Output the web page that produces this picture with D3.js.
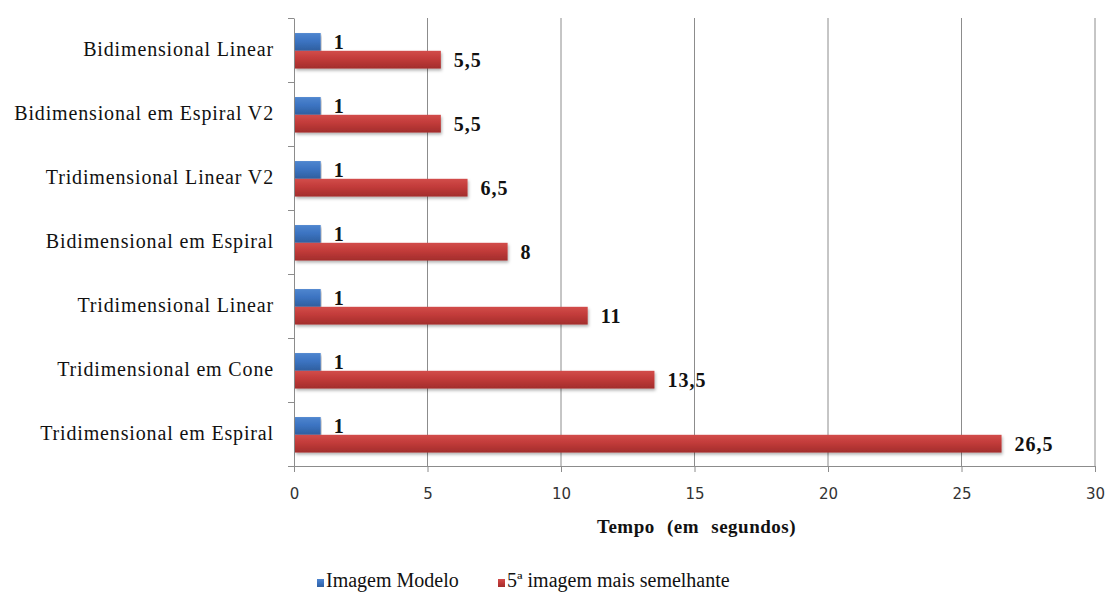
<!DOCTYPE html>
<html>
<head>
<meta charset="utf-8">
<script src="https://cdn.jsdelivr.net/npm/d3@7"></script>
<style>
  body { margin: 0; background: #fff; }
  text { font-family: "Liberation Serif", "Times New Roman", serif; }
</style>
</head>
<body>
<div id="chart"></div>
<script>
var categories = ["Bidimensional Linear", "Bidimensional em Espiral V2", "Tridimensional Linear V2",
  "Bidimensional em Espiral", "Tridimensional Linear", "Tridimensional em Cone", "Tridimensional em Espiral"];
var modelo = [1, 1, 1, 1, 1, 1, 1];
var semelhante = [5.5, 5.5, 6.5, 8, 11, 13.5, 26.5];
var xTicks = [0, 5, 10, 15, 20, 25, 30];
var seriesNames = ["Imagem Modelo", "5ª imagem mais semelhante"];

var W = 1110, H = 595;
var margin = {top: 18, left: 294, right: 15, bottom: 129};
var width = W - margin.left - margin.right,
    height = H - margin.top - margin.bottom;
var serif = "'Liberation Serif', 'Times New Roman', serif";

var svg = d3.select("#chart").append("svg")
  .attr("width", W).attr("height", H);

var defs = svg.append("defs");
function grad(id, c1, c2, c3) {
  var g = defs.append("linearGradient").attr("id", id)
    .attr("x1", 0).attr("y1", 0).attr("x2", 0).attr("y2", 1);
  g.append("stop").attr("offset", "0%").attr("stop-color", c1);
  g.append("stop").attr("offset", "45%").attr("stop-color", c2);
  g.append("stop").attr("offset", "100%").attr("stop-color", c3);
}
grad("gBlue", "#4f86cf", "#3c74c2", "#2f5f9f");
grad("gRed", "#d24c4a", "#c23b3a", "#a22d2c");
var f = defs.append("filter").attr("id", "shadow").attr("x", "-5%").attr("y", "-20%").attr("width", "110%").attr("height", "160%");
f.append("feDropShadow").attr("dx", 1).attr("dy", 2).attr("stdDeviation", 1.5).attr("flood-color", "#000").attr("flood-opacity", 0.3);

var g = svg.append("g").attr("transform", "translate(" + margin.left + "," + margin.top + ")");

var x = d3.scaleLinear().domain([0, 30]).range([0, width]);
var y = d3.scaleBand().domain(categories).range([0, height]);
var inner = d3.scaleBand().domain([0, 1]).range([y.bandwidth() * 0.235, y.bandwidth() * 0.79]);

// grid
g.selectAll(".grid").data(xTicks.slice(1)).enter().append("line")
  .attr("x1", d => x(d)).attr("x2", d => x(d))
  .attr("y1", 0).attr("y2", height)
  .attr("stroke", "#8c8c8c").attr("stroke-width", 1);

// axes
var xAxis = d3.axisBottom(x).tickValues(xTicks).tickSize(6).tickPadding(16);
var xg = g.append("g").attr("transform", "translate(0," + height + ")").call(xAxis);
xg.select(".domain").attr("stroke", "#8c8c8c");
xg.selectAll(".tick line").attr("stroke", "#8c8c8c");
xg.selectAll(".tick text").attr("fill", "#333")
  .style("font-family", "'DejaVu Sans', sans-serif").style("font-size", "15px");

var yg = g.append("g").call(d3.axisLeft(y).tickSize(0).tickPadding(20));
yg.select(".domain").attr("stroke", "#8c8c8c");
yg.selectAll(".tick text").attr("fill", "#111")
  .style("font-family", serif).style("font-size", "20px")
  .style("letter-spacing", "0.85px");
// band boundary ticks
g.selectAll(".bt").data(d3.range(categories.length + 1)).enter().append("line")
  .attr("x1", -6).attr("x2", 0)
  .attr("y1", d => d * y.step() + 0.5).attr("y2", d => d * y.step() + 0.5)
  .attr("stroke", "#8c8c8c");

// bars
var rows = categories.map(function (c, i) { return {cat: c, vals: [modelo[i], semelhante[i]]}; });
var fills = ["url(#gBlue)", "url(#gRed)"];
var row = g.selectAll(".row").data(rows).enter().append("g")
  .attr("transform", d => "translate(0," + y(d.cat) + ")");

[0, 1].forEach(function (s) {
  row.append("rect")
    .attr("x", 1).attr("y", inner(s))
    .attr("width", d => x(d.vals[s]) - 1)
    .attr("height", inner.bandwidth())
    .attr("fill", fills[s])
    .attr("filter", "url(#shadow)");
  row.append("text")
    .attr("x", d => x(d.vals[s]) + 13)
    .attr("y", inner(s) + inner.bandwidth() / 2 + 7)
    .attr("font-weight", "bold").attr("fill", "#111")
    .style("font-family", serif).style("font-size", "20px").style("letter-spacing", "1px")
    .text(d => String(d.vals[s]).replace(".", ","));
});

// axis title
g.append("text").attr("x", x(15) + 2).attr("y", height + 67)
  .attr("text-anchor", "middle").attr("font-weight", "bold").attr("fill", "#111")
  .style("font-family", serif).style("font-size", "19px")
  .style("letter-spacing", "0.5px").style("word-spacing", "7px")
  .text("Tempo (em segundos)");

// legend
var legX = [317, 498];
var leg = svg.append("g").attr("class", "legend")
  .selectAll("g").data(seriesNames).enter().append("g")
  .attr("transform", (d, i) => "translate(" + legX[i] + ",587)");
leg.append("rect").attr("x", 0).attr("y", -8).attr("width", 7).attr("height", 8)
  .attr("fill", (d, i) => fills[i]);
leg.append("text").attr("x", 9).attr("y", 0).attr("fill", "#111")
  .style("font-family", serif).style("font-size", "20px")
  .text(d => d);
</script>
</body>
</html>
